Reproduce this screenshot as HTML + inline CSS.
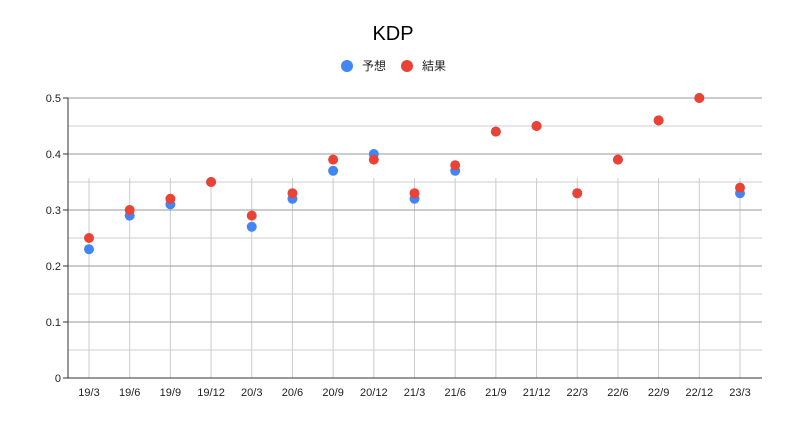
<!DOCTYPE html>
<html><head><meta charset="utf-8"><style>
body{margin:0;background:#fff;font-family:"Liberation Sans","Noto Sans CJK JP",sans-serif}
</style></head><body>
<svg id="c" width="787" height="424" xmlns="http://www.w3.org/2000/svg">
<text x="393" y="40" text-anchor="middle" font-size="20" fill="#000">KDP</text>
<g>
<g><circle cx="347" cy="66" r="6" fill="#4285f4"/><text x="362" y="70" font-size="12" fill="#222">予想</text></g>
<g><circle cx="407" cy="66" r="6" fill="#ea4335"/><text x="422" y="70" font-size="12" fill="#222">結果</text></g>
</g>
<g id="grid"></g><g id="marks"></g>
</svg>
<script>
const categories=["19/3","19/6","19/9","19/12","20/3","20/6","20/9","20/12","21/3","21/6","21/9","21/12","22/3","22/6","22/9","22/12","23/3"];
const forecast=[0.23,0.29,0.31,0.35,0.27,0.32,0.37,0.40,0.32,0.37,0.44,0.45,0.33,0.39,0.46,0.50,0.33];
const result=[0.25,0.30,0.32,0.35,0.29,0.33,0.39,0.39,0.33,0.38,0.44,0.45,0.33,0.39,0.46,0.50,0.34];
const yTicks=["0","0.1","0.2","0.3","0.4","0.5"];
const NS="http://www.w3.org/2000/svg";
const x0=89,x1=740,yb=378,yt=98,L=68,R=762;
const xs=i=>x0+(x1-x0)*i/(categories.length-1);
const ys=v=>yb-(yb-yt)*v/0.5;
const grid=document.getElementById('grid'),marks=document.getElementById('marks');
function mk(t,a,p){const e=document.createElementNS(NS,t);for(const k in a)e.setAttribute(k,a[k]);p.appendChild(e);return e;}
categories.forEach((c,i)=>{
 const l=mk('line',{x1:xs(i),x2:xs(i),y1:178,y2:yb,stroke:'#ccc','stroke-width':1},grid);
 
 
 const t=mk('text',{x:xs(i),y:396,'text-anchor':'middle','font-size':11,fill:'#222'},grid);t.textContent=c;
 
 
});
for(let k=0;k<=10;k++){
 const v=k*0.05,y=ys(v);
 const l=mk('line',{x1:L,x2:R,y1:y,y2:y,stroke:k%2?'#ccc':'#999','stroke-width':1},grid);
 
 
 if(k%2===0){
  mk('line',{x1:L-5,x2:L,y1:y,y2:y,stroke:'#333'},grid);
  const t=mk('text',{x:L-7,y:y+4,'text-anchor':'end','font-size':11,fill:'#222'},grid);t.textContent=yTicks[k/2];
  
  
 }
}
const ax=mk('line',{x1:L,x2:L,y1:yt,y2:yb,stroke:'#333'},grid);


const bx=mk('line',{x1:L,x2:R,y1:yb,y2:yb,stroke:'#333'},grid);


forecast.forEach((v,i)=>{const c=mk('circle',{cx:xs(i),cy:ys(v),r:5,fill:'#4285f4'},marks);
 
 });
result.forEach((v,i)=>{const c=mk('circle',{cx:xs(i),cy:ys(v),r:5,fill:'#ea4335'},marks);
 
 });
</script>
</body></html>
